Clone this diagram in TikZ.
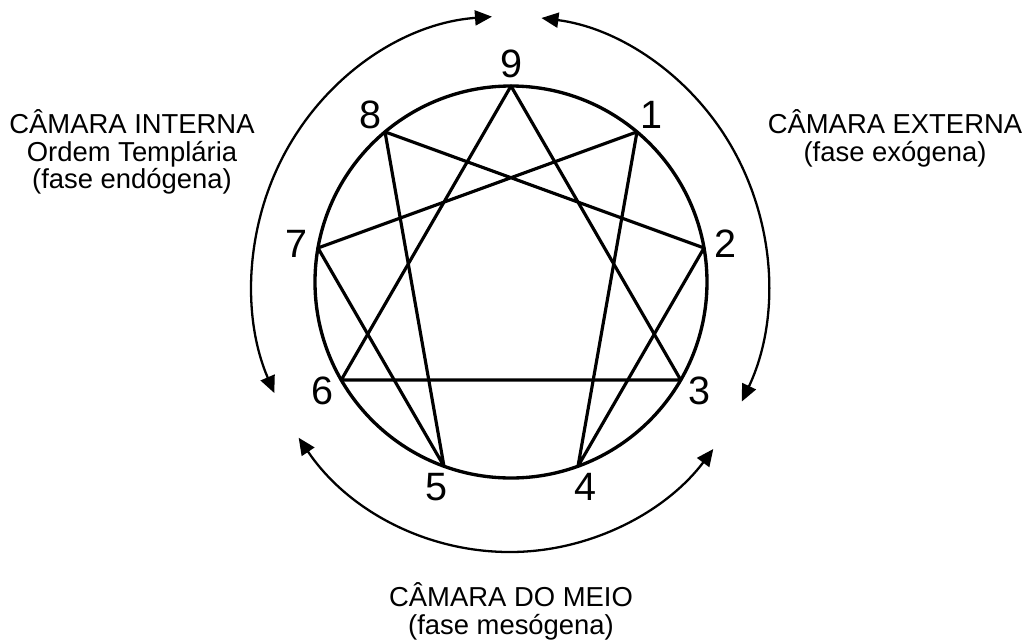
\documentclass[tikz,border=0pt]{standalone}
\usepackage{fontspec}
\setmainfont{Liberation Sans}
\usetikzlibrary{arrows.meta, positioning}
\tikzset{
    ring/.style={draw, circle, line width=1.9pt, inner sep=0pt, outer sep=0pt},
    chord/.style={line width=1.8pt, line join=round},
    num/.style={font=\fontsize{22.5}{22.5}\selectfont, inner sep=0pt},
    caption/.style={align=center, font=\fontsize{15.6}{15.8}\selectfont, inner sep=0pt},
    arrow/.style={{Triangle[length=0.34cm, width=0.3cm]}-{Triangle[length=0.34cm, width=0.3cm]}, line width=1.3pt}
}

\begin{document}
\begin{tikzpicture}
    \useasboundingbox (-10.22,-7.22) rectangle (10.24,5.64);

    \node [ring, minimum size=7.84cm] (ring) at (0,0) {};

    % points on the ring and their numbers
    \foreach \i in {1,...,9} {
        \pgfmathtruncatemacro\a{mod(450-40*\i,360)}
        \coordinate (p\i) at (ring.\a);
        \node [num] (n\i) at (\a:4.36) {\i};
    }

    % triangle 9-3-6
    \draw [chord] (p9) -- (p3) -- (p6) -- cycle;
    % figure 1-4-2-8-5-7
    \draw [chord] (p1) -- (p4) -- (p2) -- (p8) -- (p5) -- (p7) -- cycle;

    % chambers
    \node [caption] (inner) at (-7.58,2.6) {CÂMARA INTERNA\\Ordem Templária\\(fase endógena)};
    \node [caption] (outer) at (7.68,2.87) {CÂMARA EXTERNA\\(fase exógena)};
    \node [caption, below=2.08cm of ring] (middle) {CÂMARA DO MEIO\\(fase mesógena)};

    % arcs round the ring
    \coordinate (o) at (-0.02,-0.04);
    \coordinate (l0) at ([shift={(94:5.16 and 5.36)}]o);
    \coordinate (b0) at ([shift={(215:5.16 and 5.36)}]o);
    \coordinate (r0) at ([shift={(-26:5.16 and 5.36)}]o);
    \draw [arrow] (l0) arc [start angle=94, end angle=204, x radius=5.16, y radius=5.36];
    \draw [arrow] (b0) arc [start angle=215, end angle=322, x radius=5.16, y radius=5.36];
    \draw [arrow] (r0) arc [start angle=-26, end angle=83, x radius=5.16, y radius=5.36];
\end{tikzpicture}
\end{document}
